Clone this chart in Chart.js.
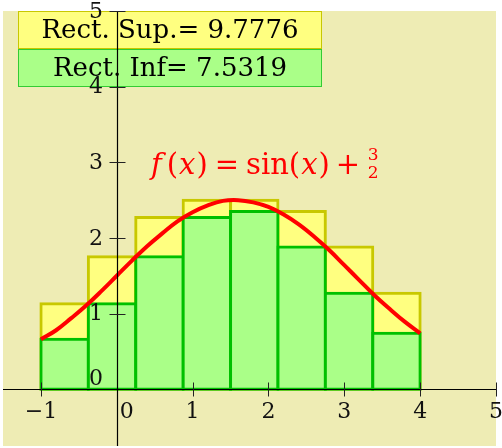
<!DOCTYPE html>
<html>
<head>
<meta charset="utf-8">
<script src="https://cdn.jsdelivr.net/npm/chart.js@4/dist/chart.umd.min.js"></script>
<style>
  body { margin: 0; background: #fff; }
  canvas { display: block; }
</style>
</head>
<body>
<canvas id="riemann" width="502" height="448"></canvas>
<script>
// partition of [-1, 4] into 8 strips
const xEdges = [-1, -0.375, 0.25, 0.875, 1.5, 2.125, 2.75, 3.375, 4];
const upperValues = [1.13, 1.75, 2.27, 2.50, 2.50, 2.35, 1.88, 1.27];
const lowerValues = [0.66, 1.13, 1.75, 2.27, 2.35, 1.88, 1.27, 0.74];

// points along the curve
const curveX = [-1, -0.8, -0.6, -0.4, -0.2, 0, 0.2, 0.4, 0.6, 0.8, 1, 1.2, 1.4,
                1.6, 1.8, 2, 2.2, 2.4, 2.6, 2.8, 3, 3.2, 3.4, 3.6, 3.8, 4];
const curveY = [0.66, 0.78, 0.94, 1.11, 1.30, 1.50, 1.70, 1.89, 2.06, 2.22, 2.34, 2.43, 2.49,
                2.50, 2.47, 2.41, 2.31, 2.18, 2.02, 1.84, 1.64, 1.44, 1.24, 1.06, 0.89, 0.74];

const xTicks = [-1, 0, 1, 2, 3, 4, 5];
const xTickLabels = ['\u22121', '0', '1', '2', '3', '4', '5'];
const yTicks = [0, 1, 2, 3, 4, 5];
const yTickLabels = ['0', '1', '2', '3', '4', '5'];

const upperLabel = 'Rect. Sup.= 9.7776';
const lowerLabel = 'Rect. Inf= 7.5319';

const centers = xEdges.slice(0, -1).map((a, i) => (a + xEdges[i + 1]) / 2);
const serif = '"DejaVu Serif", serif';

function barSet(values, fill, edge, order) {
    return {
        type: 'bar',
        data: centers.map((x, i) => ({x: x, y: values[i]})),
        backgroundColor: fill,
        borderColor: edge,
        borderWidth: 3,
        inflateAmount: 1.5,
        borderSkipped: false,
        grouped: false,
        barPercentage: 1,
        categoryPercentage: 1,
        order: order
    };
}

const decor = {
    id: 'decor',
    beforeDraw(chart) {
        const {ctx, chartArea: a} = chart;
        ctx.save();
        ctx.fillStyle = '#eeecb4';
        ctx.fillRect(a.left, a.top, a.right - a.left, a.bottom - a.top);
        ctx.restore();
    },
    afterDatasetsDraw(chart) {
        const {ctx, chartArea: a, scales: {x, y}} = chart;
        const x0 = Math.round(x.getPixelForValue(0)) + 0.5;
        const y0 = Math.round(y.getPixelForValue(0)) + 0.5;
        ctx.save();

        // sum boxes
        ctx.lineWidth = 1;
        ctx.fillStyle = '#ffff80';
        ctx.strokeStyle = '#c8c800';
        ctx.fillRect(18, 11, 304, 38);
        ctx.strokeRect(18.5, 11.5, 303, 37);
        ctx.fillStyle = '#aaff88';
        ctx.strokeStyle = '#33cc33';
        ctx.fillRect(18, 49, 304, 38);
        ctx.strokeRect(18.5, 49.5, 303, 37);
        ctx.fillStyle = '#000';
        ctx.font = '26px ' + serif;
        ctx.textAlign = 'center';
        ctx.textBaseline = 'middle';
        ctx.fillText(upperLabel, 170, 31);
        ctx.fillText(lowerLabel, 170, 69);

        // f(x) = sin(x) + 3/2
        ctx.fillStyle = '#ff0000';
        ctx.textAlign = 'left';
        ctx.textBaseline = 'alphabetic';
        const parts = [['f', true, 5], ['(', false, 1], ['x', true, 1], [')', false, 7],
                       ['=', false, 7], ['sin(', false, 1], ['x', true, 1], [')', false, 6],
                       ['+', false, 8]];
        let px = 151;
        parts.forEach(([t, it, gap]) => {
            ctx.font = (it ? 'italic ' : '') + '29px ' + serif;
            ctx.fillText(t, px, 174);
            px += ctx.measureText(t).width + gap;
        });
        ctx.font = '17px ' + serif;
        ctx.textAlign = 'center';
        ctx.fillText('3', px + 5, 160);
        ctx.fillText('2', px + 5, 178);

        // axes
        ctx.strokeStyle = '#000';
        ctx.lineWidth = 1.2;
        ctx.beginPath();
        ctx.moveTo(a.left, y0);
        ctx.lineTo(a.right, y0);
        ctx.moveTo(x0, a.top);
        ctx.lineTo(x0, a.bottom);
        ctx.stroke();

        ctx.lineWidth = 1;
        ctx.strokeStyle = '#222';
        ctx.beginPath();
        xTicks.forEach(v => {
            if (v === 0) return;
            const p = Math.round(x.getPixelForValue(v)) + 0.5;
            ctx.moveTo(p, y0 - 7);
            ctx.lineTo(p, y0 + 7);
        });
        yTicks.forEach(v => {
            if (v === 0) return;
            const p = Math.round(y.getPixelForValue(v)) + 0.5;
            ctx.moveTo(x0 - 8, p);
            ctx.lineTo(x0 + 8, p);
        });
        ctx.stroke();

        ctx.fillStyle = '#111';
        ctx.font = '22px ' + serif;
        ctx.textAlign = 'center';
        ctx.textBaseline = 'middle';
        xTicks.forEach((v, i) => {
            const p = x.getPixelForValue(v);
            ctx.fillText(xTickLabels[i], v === 0 ? p + 10 : p, 412);
        });
        yTicks.forEach((v, i) => {
            const p = y.getPixelForValue(v);
            ctx.fillText(yTickLabels[i], 96, v === 0 ? p - 10 : p + 1);
        });
        ctx.restore();
    }
};

new Chart('riemann', {
    type: 'bar',
    data: {
        datasets: [{
            type: 'line',
            data: curveX.map((v, i) => ({x: v, y: curveY[i]})),
            borderColor: '#ff0000',
            borderWidth: 4,
            pointRadius: 0,
            tension: 0.4,
            fill: false,
            order: 0
        },
        barSet(lowerValues, '#aaff88', '#00c000', 1),
        barSet(upperValues, '#ffff80', '#c8c800', 2)]
    },
    options: {
        responsive: false,
        animation: false,
        layout: {padding: {left: 3, top: 11, right: 6, bottom: 2}},
        scales: {
            x: {type: 'linear', min: -1.5, max: 5, offset: false, display: false,
                ticks: {stepSize: 1, includeBounds: false}},
            y: {type: 'linear', min: -0.75, max: 5, display: false}
        },
        plugins: {legend: {display: false}, tooltip: {enabled: false}}
    },
    plugins: [decor]
});
</script>
</body>
</html>
